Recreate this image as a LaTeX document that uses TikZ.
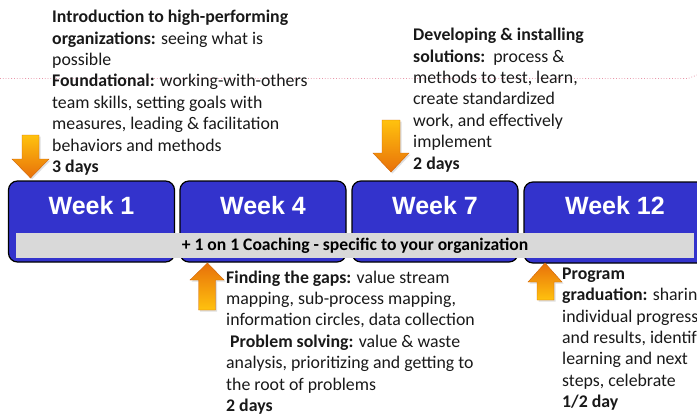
\documentclass[tikz,border=0pt]{standalone}
\usepackage{fontspec}
\setmainfont{Carlito}
\newfontfamily\weekfont{Liberation Sans}
\usepackage{tikz}
\usetikzlibrary{calc}
\usetikzlibrary{positioning}
\usetikzlibrary{shadows}

\definecolor{weekblue}{RGB}{51,51,204}
\definecolor{coachgray}{RGB}{217,217,217}
\definecolor{arrowyellow}{RGB}{255,194,14}
\definecolor{arroworange}{RGB}{232,112,10}
\definecolor{guidepink}{RGB}{232,150,170}

\tikzset{
  weekbox/.style={draw=black, line width=1.2pt, fill=weekblue, rounded corners=9pt,
    minimum width=166pt, minimum height=81pt, inner sep=0pt},
  weeklabel/.style={inner sep=0pt, text=white, font=\weekfont\fontsize{25}{25}\selectfont\bfseries},
  coachbar/.style={fill=coachgray, minimum width=678pt, minimum height=25pt, inner sep=0pt,
    font=\fontsize{17.6}{17.6}\selectfont\bfseries},
  desc/.style={anchor=north west, inner sep=0pt, align=left, text=black!90,
    font=\fontsize{17.8}{21.4}\selectfont},
  downarrow/.style={top color=arrowyellow, bottom color=arroworange, draw=arroworange!90!black, line width=0.4pt,
    drop shadow={opacity=0.25, shadow xshift=1.5pt, shadow yshift=-1.5pt}},
  uparrow/.style={top color=arroworange, bottom color=arrowyellow, draw=arroworange!90!black, line width=0.4pt,
    drop shadow={opacity=0.25, shadow xshift=1.5pt, shadow yshift=-1.5pt}}
}

\begin{document}
\begin{tikzpicture}[x=1pt, y=-1pt]
  \useasboundingbox (0,0) rectangle (697,416);
  \clip (0,0) rectangle (697,416);

  % guide line behind the text
  \draw[guidepink, dotted, line width=0.8pt] (0,78.5) -- (688,78.5) -- (697,75);

  % week boxes
  \node[weekbox] (w1) at (91.5,221.5) {};
  \node[weekbox] (w4) at (263,221.5) {};
  \node[weekbox] (w7) at (435,221.5) {};
  \node[weekbox, minimum width=182pt] (w12) at (615,222.5) {};

  \node[weeklabel, below=16pt of w1.north] (l1) {Week 1};
  \node[weeklabel, below=16pt of w4.north] (l4) {Week 4};
  \node[weeklabel, below=16pt of w7.north] (l7) {Week 7};
  \node[weeklabel, below=15pt of w12.north] (l12) {Week 12};

  % coaching bar
  \node[coachbar] (coach) at (355,245.5) {+ 1 on 1 Coaching - specific to your organization};

  % orange block arrows
  \coordinate (t1) at (30.5,178);
  \coordinate (t7) at (391,172);
  \coordinate (t4) at (207.5,263);
  \coordinate (t12) at (545,263);
  \draw[downarrow] (t1) -- ++(-18.5,-19) -- ++(10,0) -- ++(0,-24) -- ++(17,0) -- ++(0,24) -- ++(10,0) -- cycle;
  \draw[downarrow] (t7) -- ++(-18,-19) -- ++(9,0) -- ++(0,-33) -- ++(18,0) -- ++(0,33) -- ++(9,0) -- cycle;
  \draw[uparrow] (t4) -- ++(-17.5,17) -- ++(8.5,0) -- ++(0,30) -- ++(17,0) -- ++(0,-30) -- ++(8.5,0) -- cycle;
  \draw[uparrow] (t12) -- ++(-17,19) -- ++(9,0) -- ++(0,18) -- ++(17,0) -- ++(0,-18) -- ++(8,0) -- cycle;

  % session texts
  \node[desc] (s1) at (52,10) {\textbf{Introduction to high-performing}\\
    \textbf{organizations:} seeing what is\\
    possible\\
    \textbf{Foundational:} working-with-others\\
    team skills, setting goals with\\
    measures, leading \& facilitation\\
    behaviors and methods\\
    \textbf{3 days}};
  \node[desc] (s7) at (413,28) {\textbf{Developing \& installing}\\
    \textbf{solutions:}\ \ process \&\\
    methods to test, learn,\\
    create standardized\\
    work, and effectively\\
    implement\\
    \textbf{2 days}};
  \node[desc] (s4) at (226,270.5) {\textbf{Finding the gaps:} value stream\\
    mapping, sub-process mapping,\\
    information circles, data collection\\
    \ \textbf{Problem solving:} value \& waste\\
    analysis, prioritizing and getting to\\
    the root of problems\\
    \textbf{2 days}};
  \node[desc] (s12) at (562,267.5) {\textbf{Program}\\
    \textbf{graduation:} sharing\\
    individual progress\\
    and results, identify\\
    learning and next\\
    steps, celebrate\\
    \textbf{1/2 day}};
\end{tikzpicture}
\end{document}
